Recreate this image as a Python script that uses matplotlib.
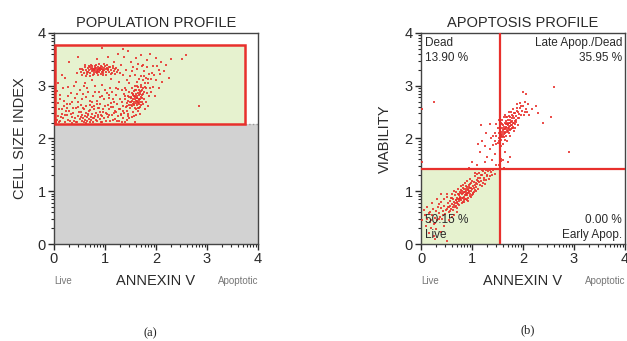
import numpy as np
import matplotlib
matplotlib.use("Agg")
import matplotlib.pyplot as plt
from matplotlib.patches import Rectangle

plt.rcParams['font.family'] = ['Liberation Sans', 'DejaVu Sans']

# ---- panel (a): population profile, (annexin, cell size) ----
pop_cluster_a = [(0.52,3.27),(0.55,3.31),(0.58,3.24),(0.60,3.35),(0.62,3.29),(0.64,3.22),(0.66,3.33),(0.67,3.27),
    (0.69,3.30),(0.70,3.36),(0.71,3.24),(0.73,3.31),(0.74,3.28),(0.75,3.34),(0.76,3.21),(0.77,3.29),(0.78,3.32),
    (0.79,3.26),(0.80,3.38),(0.81,3.30),(0.82,3.27),(0.83,3.33),(0.84,3.24),(0.85,3.30),(0.86,3.35),(0.87,3.28),
    (0.88,3.31),(0.89,3.26),(0.90,3.34),(0.91,3.29),(0.92,3.22),(0.93,3.32),(0.94,3.27),(0.95,3.36),(0.96,3.30),
    (0.97,3.25),(0.98,3.33),(0.99,3.29),(1.00,3.38),(1.01,3.31),(1.02,3.26),(1.03,3.34),(1.05,3.29),(1.06,3.32),
    (1.08,3.27),(1.10,3.35),(1.12,3.30),(1.14,3.24),(1.16,3.33),(1.18,3.28),(1.20,3.31),(1.23,3.26),(0.72,3.40),
    (0.88,3.42),(0.63,3.18),(0.96,3.20),(1.04,3.40),(0.68,3.38),(0.57,3.30),(0.92,3.37),
    (0.50,3.32),(0.54,3.20),(0.61,3.40),(0.65,3.26),(0.70,3.19),(0.74,3.37),(0.78,3.23),(0.83,3.40),(0.87,3.21),
    (0.90,3.29),(0.94,3.31),(0.98,3.41),(1.02,3.21),(1.07,3.36),(1.11,3.22),(1.15,3.37),(1.19,3.22),(1.22,3.34),
    (1.26,3.29),(1.29,3.24),(0.45,3.25),(0.81,3.34),(0.85,3.27),(0.79,3.30),(0.76,3.31),(0.86,3.32),(0.91,3.33),
    (0.97,3.28)]
pop_cluster_b = [(1.30,2.55),(1.33,2.70),(1.35,2.62),(1.37,2.85),(1.38,2.48),(1.40,2.75),(1.41,2.60),(1.42,2.92),
    (1.43,2.68),(1.44,2.53),(1.45,2.80),(1.46,2.72),(1.47,2.64),(1.48,2.88),(1.49,2.57),(1.50,2.77),(1.51,2.69),
    (1.52,2.95),(1.53,2.62),(1.54,2.83),(1.55,2.74),(1.56,2.66),(1.57,2.90),(1.58,2.58),(1.59,2.79),(1.60,2.71),
    (1.61,2.85),(1.62,2.63),(1.63,2.76),(1.64,2.97),(1.65,2.68),(1.66,2.82),(1.67,2.73),(1.68,2.60),(1.69,2.88),
    (1.70,2.78),(1.71,3.02),(1.72,2.70),(1.73,2.92),(1.74,2.84),(1.75,3.10),(1.76,2.75),(1.78,2.98),(1.80,3.15),
    (1.82,2.86),(1.84,3.05),(1.86,3.22),(1.88,2.95),(1.90,3.12),(1.93,3.25),(1.55,2.50),(1.60,2.45),(1.65,2.52),
    (1.58,3.00),(1.62,3.08),(1.70,3.18),(1.66,2.92),(1.52,2.86),(1.57,2.70),(1.63,2.80),(1.61,2.67),(1.68,2.74),
    (1.54,2.66),(1.59,2.92),(1.64,2.58),(1.72,2.83),(1.47,2.78),(1.50,2.63),(1.56,2.81),(1.67,2.65),(1.74,2.95),
    (1.77,3.28),(1.83,3.35),(1.58,3.20),(1.48,3.05),(1.45,2.42),(1.52,2.40),(1.40,2.95),
    (1.53,2.71),(1.55,2.84),(1.57,2.63),(1.59,2.75),(1.61,2.91),(1.62,2.77),(1.64,2.69),(1.66,2.75),(1.68,2.84),
    (1.70,2.64),(1.71,2.90),(1.73,2.77),(1.58,2.81),(1.60,2.56),(1.62,2.72),(1.65,2.86),(1.67,2.57),(1.69,2.70),
    (1.51,2.79),(1.49,2.70),(1.75,2.66),(1.77,2.88),(1.79,3.05),(1.81,2.96),(1.63,3.00),(1.66,3.12),(1.70,2.98),
    (1.76,3.18),(1.85,3.12),(1.44,2.62)]
pop_band = [(0.05,2.35),(0.08,2.42),(0.10,2.55),(0.12,2.33),(0.15,2.47),(0.18,2.38),(0.20,2.62),(0.22,2.31),
    (0.25,2.44),(0.28,2.36),(0.30,2.52),(0.32,2.33),(0.35,2.41),(0.38,2.48),(0.40,2.34),(0.42,2.39),(0.44,2.57),
    (0.46,2.32),(0.48,2.43),(0.50,2.37),(0.52,2.50),(0.54,2.33),(0.55,2.45),(0.57,2.38),(0.58,2.31),(0.60,2.42),
    (0.61,2.35),(0.62,2.48),(0.64,2.40),(0.65,2.33),(0.66,2.44),(0.68,2.37),(0.69,2.52),(0.70,2.31),(0.72,2.41),
    (0.73,2.35),(0.74,2.46),(0.76,2.38),(0.77,2.32),(0.78,2.55),(0.80,2.43),(0.82,2.36),(0.83,2.49),(0.85,2.33),
    (0.87,2.41),(0.88,2.58),(0.90,2.37),(0.92,2.45),(0.94,2.32),(0.96,2.51),(0.98,2.39),(1.00,2.62),(1.02,2.34),
    (1.04,2.47),(1.06,2.40),(1.08,2.55),(1.10,2.33),(1.13,2.44),(1.16,2.60),(1.19,2.37),(1.22,2.50),(1.25,2.42),
    (1.28,2.34),(1.32,2.47),(1.36,2.38),(1.40,2.32),(1.44,2.36),(0.36,2.30),(0.59,2.56),(0.71,2.63),(0.47,2.60),
    (0.84,2.66),(0.93,2.31),(1.11,2.68),(0.26,2.58),(0.63,2.30)]
pop_fill = [(0.07,2.68),(0.11,2.83),(0.14,2.40),(0.19,2.71),(0.23,2.52),(0.27,2.97),(0.31,2.66),(0.34,2.87),
    (0.37,2.58),(0.41,2.76),(0.43,3.08),(0.47,2.69),(0.51,2.91),(0.53,2.63),(0.56,2.84),(0.59,2.99),(0.62,2.62),
    (0.63,2.78),(0.67,2.89),(0.71,2.54),(0.74,2.69),(0.77,2.81),(0.79,2.61),(0.81,2.99),(0.84,2.72),(0.86,2.58),
    (0.89,2.88),(0.91,2.65),(0.94,2.80),(0.97,2.56),(0.99,2.74),(1.03,2.86),(1.05,2.63),(1.07,2.77),(1.09,2.96),
    (1.12,2.59),(1.14,2.89),(1.17,2.70),(1.19,2.53),(1.21,2.82),(1.24,2.66),(1.26,2.93),(1.29,2.74),(1.31,2.45),
    (1.34,2.91),(1.36,2.53),(1.39,2.81),(1.43,3.10),(1.46,2.46),(1.49,3.18),(1.53,3.28),(1.57,2.43),(1.63,3.32),
    (1.69,2.47),(1.73,3.38),(1.79,2.55),(1.81,2.70),(1.85,2.62),(1.87,2.80),(1.91,2.88),(1.94,2.98),(1.97,3.20),
    (2.02,3.38),(2.08,3.22),(2.12,3.08),(2.16,3.28),(2.25,3.15),(0.16,2.56),(0.33,2.46),(0.49,2.50),(0.56,2.57),
    (0.67,2.47),(0.75,2.59),(0.86,2.44),(0.95,2.43),(1.07,2.44),(1.17,2.48),(1.27,2.56),(1.34,2.32),(1.48,2.39),
    (1.58,2.31),(0.03,2.32),(0.09,2.31),(0.21,2.45),(0.43,2.32),(0.53,2.41),(0.79,2.39),(0.91,2.50),(1.01,2.49),
    (1.15,2.36),(1.23,2.33)]
pop_sparse = [(0.05,2.90),(0.08,3.05),(0.12,2.75),(0.18,2.95),(0.22,3.15),(0.28,2.80),(0.30,3.45),(0.35,2.70),
    (0.40,3.00),(0.45,2.85),(0.48,3.55),(0.55,2.75),(0.60,3.05),(0.65,2.95),(0.70,2.72),(0.75,3.10),(0.80,2.88),
    (0.85,3.50),(0.90,2.78),(0.95,3.02),(1.00,2.92),(1.05,3.55),(1.08,2.82),(1.12,3.12),(1.15,2.75),(1.18,3.45),
    (1.22,2.95),(1.25,3.60),(1.28,3.08),(1.32,3.40),(1.35,3.20),(1.38,3.55),(1.42,3.30),(1.45,3.65),(1.50,3.45),
    (1.55,3.35),(1.60,3.52),(1.65,3.42),(1.70,3.58),(1.75,3.40),(1.82,3.48),(1.88,3.60),(1.95,3.38),(2.00,3.52),
    (2.05,3.30),(2.10,3.45),(2.20,3.40),(2.30,3.50),(2.50,3.50),(2.58,3.58),(2.85,2.62),(2.00,3.10),(2.05,2.95),
    (1.98,2.80),(0.25,2.65),(0.15,3.20),(1.35,3.70),(0.95,3.72)]

# gates of panel (a)
pop_gate = (0.0, 2.28, 3.75, 3.78)   # x0, y0, x1, y1
pop_excluded_top = 2.28

# ---- panel (b): apoptosis profile, (annexin, viability) ----
apo_lower = [(0.18,0.42),(0.22,0.55),(0.25,0.38),(0.28,0.50),(0.30,0.62),(0.32,0.45),(0.35,0.58),(0.38,0.52),
    (0.40,0.68),(0.42,0.48),(0.44,0.62),(0.46,0.72),(0.48,0.56),(0.50,0.66),(0.52,0.78),(0.54,0.60),(0.55,0.70),
    (0.57,0.82),(0.58,0.66),(0.60,0.75),(0.61,0.88),(0.62,0.70),(0.64,0.80),(0.65,0.74),(0.66,0.92),(0.67,0.78),
    (0.68,0.84),(0.69,0.72),(0.70,0.88),(0.71,0.80),(0.72,0.95),(0.73,0.76),(0.74,0.86),(0.75,0.82),(0.76,0.98),
    (0.77,0.90),(0.78,0.84),(0.79,1.02),(0.80,0.88),(0.81,0.94),(0.82,0.80),(0.83,0.97),(0.84,0.90),(0.85,1.05),
    (0.86,0.93),(0.87,0.86),(0.88,1.00),(0.89,0.95),(0.90,1.08),(0.91,0.92),(0.92,1.02),(0.93,0.97),(0.94,1.12),
    (0.95,0.99),(0.96,0.91),(0.97,1.06),(0.98,1.01),(0.99,1.15),(1.00,1.04),(1.01,0.96),(1.02,1.10),(1.03,1.06),
    (1.04,1.18),(1.05,1.02),(1.06,1.12),(1.08,1.08),(1.09,1.22),(1.10,1.14),(1.12,1.05),(1.13,1.18),(1.15,1.25),
    (1.16,1.12),(1.18,1.20),(1.20,1.30),(1.22,1.16),(1.24,1.26),(1.26,1.34),(1.28,1.22),(1.30,1.30),(1.32,1.38),
    (1.35,1.28),(1.38,1.36),(1.42,1.40),(1.45,1.32),(0.85,0.80),(0.78,0.96),(0.92,0.88),(0.70,0.78),(0.96,1.14),
    (1.04,0.98),(0.88,1.10),(0.74,0.92),(0.63,0.86),(1.11,1.26),(0.57,0.72),(0.82,1.06),(0.90,0.84),(1.00,0.92),
    (1.07,1.00)]
apo_lower_extra = [(0.15,0.58),(0.20,0.45),(0.24,0.66),(0.27,0.40),(0.33,0.70),(0.36,0.48),(0.39,0.80),(0.43,0.55),
    (0.45,0.85),(0.49,0.64),(0.51,0.95),(0.53,0.70),(0.56,0.62),(0.58,0.88),(0.60,0.95),(0.62,0.64),(0.64,1.00),
    (0.66,0.70),(0.68,0.98),(0.70,0.68),(0.72,1.05),(0.74,0.74),(0.76,0.88),(0.78,1.10),(0.80,0.78),(0.82,1.12),
    (0.84,0.84),(0.86,1.16),(0.88,0.85),(0.90,1.20),(0.92,0.82),(0.94,1.00),(0.96,1.24),(0.98,0.90),(1.00,1.20),
    (1.02,0.94),(1.05,1.28),(1.07,1.16),(1.10,1.32),(1.12,1.20),(1.14,1.35),(1.17,1.30),(1.19,1.10),(1.21,1.38),
    (1.23,1.22),(1.25,1.14),(1.27,1.40),(1.29,1.28),(1.33,1.24),(1.36,1.41),(1.40,1.30),(0.86,0.98),(0.80,1.00),
    (0.93,1.05),(0.75,0.94),(0.69,0.83),(0.88,0.92),(0.95,1.08),(0.83,0.88),(0.91,0.97),(0.77,0.86),(0.99,1.07),
    (0.72,0.85),(0.84,0.99),(0.89,1.04),(0.97,0.95)]
apo_lower_sparse = [(0.05,0.65),(0.08,0.55),(0.10,0.35),(0.12,0.70),(0.15,0.20),(0.18,0.60),(0.20,0.30),(0.25,0.15),
    (0.30,0.28),(0.35,0.75),(0.40,0.22),(0.45,0.35),(0.50,0.05),(0.55,0.45),(0.32,0.85),(0.22,0.78),(0.60,0.52),
    (0.02,0.45),(0.40,0.95),(0.50,0.90),(0.65,0.55),(0.28,0.10),(0.12,0.48),(0.70,0.60)]
apo_upper = [(1.42,1.88),(1.45,1.95),(1.48,2.05),(1.50,1.92),(1.52,2.10),(1.53,2.00),(1.55,2.15),(1.56,1.98),
    (1.57,2.06),(1.58,2.20),(1.59,2.02),(1.60,2.12),(1.61,2.25),(1.62,2.08),(1.63,2.18),(1.64,2.30),(1.65,2.12),
    (1.66,2.22),(1.67,2.05),(1.68,2.28),(1.69,2.16),(1.70,2.35),(1.71,2.20),(1.72,2.10),(1.73,2.30),(1.74,2.24),
    (1.75,2.40),(1.76,2.18),(1.77,2.32),(1.78,2.26),(1.79,2.45),(1.80,2.30),(1.81,2.22),(1.82,2.38),(1.83,2.48),
    (1.84,2.34),(1.85,2.28),(1.86,2.42),(1.88,2.52),(1.90,2.38),(1.92,2.46),(1.94,2.58),(1.96,2.44),(1.98,2.52),
    (2.00,2.62),(2.03,2.50),(2.06,2.56),(2.10,2.65),(1.95,2.68),(1.88,2.65),(2.00,2.88),(2.05,2.85),(1.65,2.45),
    (1.58,2.35),(1.72,2.50),(1.60,1.90),(1.68,1.95),(1.75,2.05),(1.82,2.15),(1.90,2.25),(1.62,2.02),(1.70,2.14),
    (1.66,2.34),(1.74,2.16),(1.78,2.38),(1.54,2.22),(1.56,2.30),(1.84,2.20),(2.12,2.45),(2.18,2.55),(2.25,2.62),
    (2.30,2.48)]
apo_upper_extra = [(1.45,2.10),(1.47,1.90),(1.50,2.20),(1.52,1.96),(1.55,2.26),(1.57,2.12),(1.59,2.28),(1.61,2.16),
    (1.63,2.40),(1.64,2.10),(1.66,2.28),(1.68,2.12),(1.69,2.40),(1.71,2.28),(1.72,2.42),(1.73,2.18),(1.75,2.30),
    (1.76,2.50),(1.78,2.20),(1.80,2.42),(1.81,2.55),(1.83,2.30),(1.85,2.48),(1.87,2.35),(1.89,2.58),(1.91,2.50),
    (1.93,2.38),(1.97,2.62),(2.01,2.45),(2.04,2.70),(2.08,2.50),(1.67,2.20),(1.70,2.25),(1.73,2.22),(1.76,2.26),
    (1.65,2.18),(1.69,2.30),(1.74,2.36),(1.79,2.34),(1.62,2.22),(1.60,2.05),(1.64,1.98),(1.58,2.08),(1.56,2.04),
    (1.66,2.40),(1.80,2.20),(1.86,2.32),(1.48,2.28),(1.52,2.35),(1.42,2.05)]
apo_mid_sparse = [(1.55,1.45),(1.55,1.55),(1.56,1.62),(1.54,1.70),(1.55,1.78),(1.56,1.85),(1.53,1.50),(1.57,1.58),
    (1.54,1.92),(1.20,1.40),(1.25,1.55),(1.30,1.65),(1.10,1.50),(1.15,1.75),(1.35,1.80),(1.40,1.60),(1.05,1.35),
    (1.00,1.55),(1.20,1.95),(1.28,2.10),(1.18,2.25),(1.35,2.28),(1.45,1.70),(1.48,1.50),(1.60,1.60),(1.65,1.75),
    (1.70,1.55),(1.62,1.45),(1.38,2.00),(1.25,1.85),(1.12,1.90),(0.95,1.45),(0.25,2.70),(2.60,2.98),(2.90,1.75),
    (0.02,2.55),(0.02,1.55),(2.40,2.30),(2.55,2.40),(1.75,1.65)]

apo_vline = 1.55
apo_hline = 1.42
quad_labels = ["Dead\n13.90 %", "Late Apop./Dead\n35.95 %", "50.15 %\nLive", "0.00 %\nEarly Apop."]

RED = '#e8302c'
GREEN = '#e6f2cf'
GREY = '#d2d2d2'
TXT = '#2a2a2a'


def style_axes(ax, title, ylabel, ylab_x):
    ax.set_xlim(0, 4)
    ax.set_ylim(0, 4)
    ax.set_xticks([0, 1, 2, 3, 4])
    ax.set_yticks([0, 1, 2, 3, 4])
    minor = [k + np.log10(m) for k in range(4) for m in range(2, 10)]
    ax.set_xticks(minor, minor=True)
    ax.set_yticks(minor, minor=True)
    ax.tick_params(which='major', length=4, width=1, colors=TXT, labelsize=10.5, pad=2)
    ax.tick_params(which='minor', length=2.5, width=0.8, colors=TXT)
    for s in ax.spines.values():
        s.set_color('#444444')
        s.set_linewidth(1)
    ax.set_title(title, fontsize=10.5, color=TXT, pad=4)
    ax.text(0.5, -0.175, 'ANNEXIN V', transform=ax.transAxes, ha='center', va='center',
            fontsize=10.5, color=TXT)
    ax.text(0.0, -0.175, 'Live', transform=ax.transAxes, ha='left', va='center',
            fontsize=7, color='#777777')
    ax.text(1.0, -0.175, 'Apoptotic', transform=ax.transAxes, ha='right', va='center',
            fontsize=7, color='#777777')
    ax.text(ylab_x, 0.5, ylabel, transform=ax.transAxes, ha='center', va='center',
            rotation=90, fontsize=10.5, color=TXT)


def scatter_sets(ax, sets):
    for pts in sets:
        xs = [p[0] for p in pts]
        ys = [p[1] for p in pts]
        ax.scatter(xs, ys, s=4.5, marker='s', color=RED, linewidths=0, alpha=0.85, zorder=3)


fig = plt.figure(figsize=(6.27, 3.41), dpi=100)
ax1 = fig.add_axes([54/627, 97/341, 204/627, 211/341])
ax2 = fig.add_axes([421/627, 97/341, 204/627, 211/341])

# panel (a)
ax1.add_patch(Rectangle((0, 0), 4, pop_excluded_top, facecolor=GREY, edgecolor='none', zorder=1))
ax1.plot([pop_gate[2], 4], [pop_excluded_top, pop_excluded_top], color='#999999', lw=1, ls=':', zorder=2)
x0, y0, x1, y1 = pop_gate
ax1.add_patch(Rectangle((x0, y0), x1 - x0, y1 - y0, facecolor=GREEN, edgecolor='none', zorder=1))
ax1.add_patch(Rectangle((x0 + 0.01, y0), x1 - x0 - 0.01, y1 - y0, facecolor='none', edgecolor=RED,
                        lw=1.8, zorder=4))
scatter_sets(ax1, [pop_band, pop_fill, pop_sparse, pop_cluster_a, pop_cluster_b])
style_axes(ax1, 'POPULATION PROFILE', 'CELL SIZE INDEX', -0.167)

# panel (b)
ax2.add_patch(Rectangle((0, 0), apo_vline, apo_hline, facecolor=GREEN, edgecolor='none', zorder=1))
ax2.axvline(apo_vline, color=RED, lw=1.6, zorder=4)
ax2.axhline(apo_hline, color=RED, lw=1.6, zorder=4)
scatter_sets(ax2, [apo_lower_sparse, apo_lower, apo_lower_extra, apo_mid_sparse, apo_upper, apo_upper_extra])
qfs = 8.5
ax2.text(0.08, 3.92, quad_labels[0], ha='left', va='top', fontsize=qfs, color=TXT, linespacing=1.35, zorder=5)
ax2.text(3.94, 3.92, quad_labels[1], ha='right', va='top', fontsize=qfs, color=TXT, linespacing=1.35, zorder=5)
ax2.text(0.08, 0.06, quad_labels[2], ha='left', va='bottom', fontsize=qfs, color=TXT, linespacing=1.35, zorder=5)
ax2.text(3.94, 0.06, quad_labels[3], ha='right', va='bottom', fontsize=qfs, color=TXT, linespacing=1.35, zorder=5)
style_axes(ax2, 'APOPTOSIS PROFILE', 'VIABILITY', -0.176)

fig.text(150/627, 1 - 333/341, '(a)', family='Liberation Serif', fontsize=9, ha='center', va='center', color='#222222')
fig.text(528/627, 1 - 330/341, '(b)', family='Liberation Serif', fontsize=9, ha='center', va='center', color='#222222')

fig.savefig('out.png', dpi=100)
